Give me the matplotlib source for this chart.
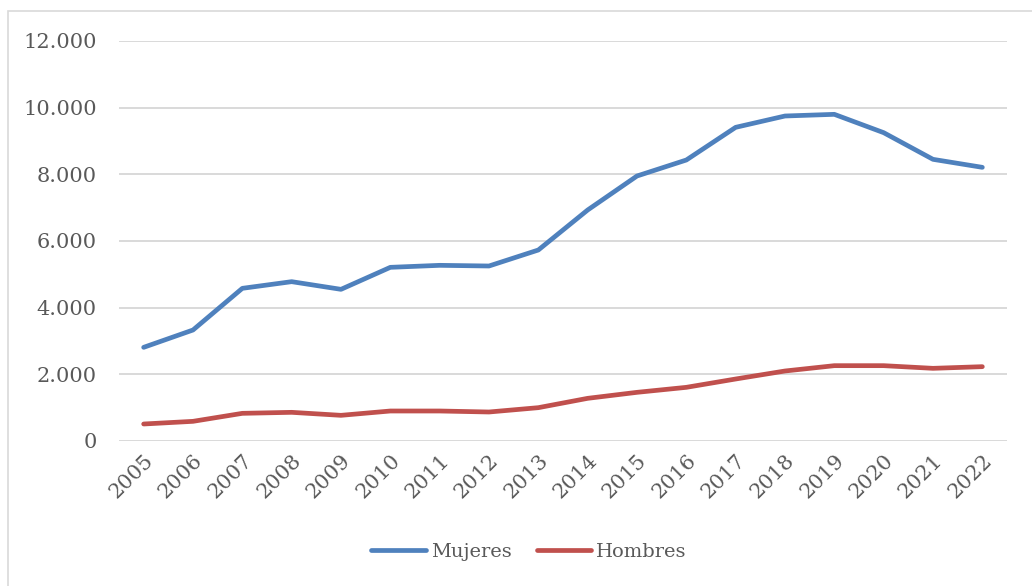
import matplotlib
matplotlib.use("Agg")
import matplotlib.pyplot as plt
from matplotlib.patches import Rectangle

years = [str(y) for y in range(2005, 2023)]
mujeres = [2810, 3330, 4580, 4780, 4550, 5210, 5270, 5250, 5730,
           6930, 7950, 8430, 9410, 9750, 9800, 9250, 8450, 8210]
hombres = [510, 590, 830, 860, 770, 900, 900, 870, 1000,
           1280, 1460, 1610, 1860, 2100, 2260, 2260, 2180, 2230]
yticks = [0, 2000, 4000, 6000, 8000, 10000, 12000]

W, H = 1032, 586
fig = plt.figure(figsize=(W / 100, H / 100), dpi=100)
plt.rcParams['font.family'] = ['DejaVu Serif']

# chart frame
fig.patches.append(Rectangle((8 / W, 0 - 0.01), 1.1, 1 - 11 / H + 0.01,
                             transform=fig.transFigure, fill=False,
                             edgecolor='#D9D9D9', linewidth=1.2))

ax = fig.add_axes([119 / W, 1 - 441 / H, (1007 - 119) / W, 400 / H])
x = list(range(len(years)))
ax.plot(x, mujeres, color='#4F81BD', linewidth=3.4, solid_capstyle='round',
        solid_joinstyle='round', label='Mujeres', zorder=3)
ax.plot(x, hombres, color='#C0504D', linewidth=3.4, solid_capstyle='round',
        solid_joinstyle='round', label='Hombres', zorder=3)

ax.set_xlim(-0.5, len(years) - 0.5)
ax.set_ylim(0, 12000)
ax.set_yticks(yticks)
ax.set_yticklabels([f"{v:,}".replace(",", ".") for v in yticks])
ax.set_xticks(x)
ax.set_xticklabels(years, rotation=45, ha='right', rotation_mode='anchor')
ax.grid(axis='y', color='#D9D9D9', linewidth=1.4)
ax.set_axisbelow(True)
for s in ax.spines.values():
    s.set_visible(False)
ax.tick_params(axis='both', length=0, labelsize=15, colors='#595959')
ax.tick_params(axis='y', pad=16)
ax.tick_params(axis='x', pad=7)

leg = fig.legend(loc='center', bbox_to_anchor=(529 / W, 1 - 552 / H), ncol=2,
                 frameon=False, fontsize=14, handlelength=2.8,
                 columnspacing=1.3, handletextpad=0.25)
for t in leg.get_texts():
    t.set_color('#595959')

fig.savefig('out.png', dpi=100)
